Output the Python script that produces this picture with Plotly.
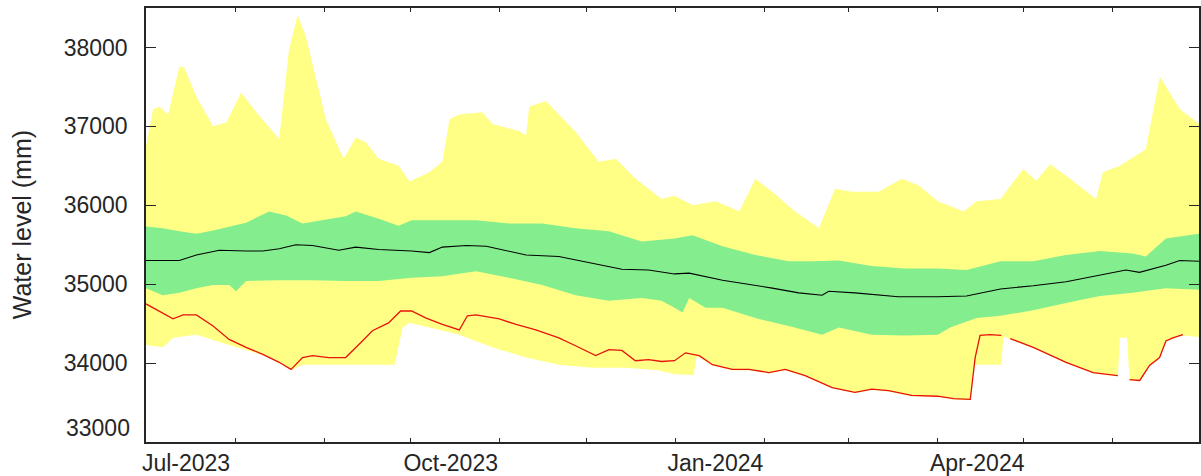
import numpy as np
import pandas as pd
import plotly.graph_objects as go

START = "2023-07-01"

# Yellow band: historical maximum (upper edge)
max_day = [0, 2.5, 4.7, 7.7, 11.6, 13.3, 17.5, 23.3, 27.9, 33.1, 38.3, 46.3, 49.7, 52.7, 55.6,
           62.5, 68.7, 72.9, 76.4, 80.9, 87.8, 91.6, 98.5, 103, 105.5, 108.9, 116.9, 120.4,
           129.7, 132.1, 133.2, 139, 143.5, 149.4, 157.4, 163.3, 170.2, 179.2, 183.7, 190,
           198, 206.2, 211.8, 217.7, 225.6, 233.9, 239.5, 245.4, 254.7, 262.7, 268.6, 275.2,
           284.2, 288.7, 297, 304.9, 309.4, 314.3, 321.2, 330.2, 332.6, 338.5, 347.5, 352.4,
           359.3, 366]
max_mm = [36750, 37220, 37250, 37150, 37760, 37745, 37380, 37000, 37050, 37430, 37180, 36840,
          37970, 38410, 38135, 37090, 36590, 36860, 36800, 36590, 36500, 36300, 36420, 36550,
          37090, 37150, 37180, 37030, 36940, 36880, 37250, 37320, 37150, 36930, 36550, 36590,
          36335, 36080, 36120, 36000, 36050, 35920, 36335, 36170, 35920, 35710, 36210, 36170,
          36170, 36335, 36250, 36050, 35920, 36050, 36080, 36460, 36310, 36520, 36335, 36080,
          36420, 36500, 36710, 37630, 37220, 37030]

# Yellow band: historical minimum (lower edge)
min_day = [0, 6, 9.4, 17.5, 28.9, 34.8, 40.6, 46.3, 50.4, 54.4, 69.4, 86.4, 89.2, 91.6, 98.5,
           108.9, 120.4, 132.1, 143.5, 155, 166.8, 178.2, 183.7, 190.3, 191.5, 196.9, 203.8,
           209.6, 216.5, 222.2, 229.1, 238.5, 246.4, 252.3, 258.1, 266.1, 275.2, 280.7, 286.5,
           288, 297.3, 298, 300.4, 308.4, 319.8, 329.2, 337.8, 338.5, 341, 341.9, 345.4, 348.8,
           352.3, 354.5, 356.9, 360.4, 366]
min_mm = [34230, 34200, 34320, 34360, 34230, 34160, 34100, 34000, 33910, 33980, 33980, 33980,
          34450, 34510, 34450, 34360, 34200, 34070, 33980, 33940, 33940, 33910, 33860, 33850,
          34090, 33970, 33910, 33910, 33870, 33910, 33830, 33680, 33620, 33660, 33640, 33580,
          33570, 33540, 33530, 33980, 33980, 34340, 34300, 34190, 34000, 33870, 33830, 34320,
          34320, 33780, 33770, 33960, 34060, 34270, 34310, 34350, 34330]

# Green band: upper and lower percentile
p_hi_day = [0, 5.8, 11.6, 17.5, 23.3, 30.2, 34.8, 42.8, 48.7, 54.4, 61.4, 69.4, 72.9, 80.9,
            87.8, 92.3, 103, 114.7, 126.2, 137.7, 149.3, 160.9, 172.3, 183.7, 190, 200.4,
            211.8, 223.4, 231.5, 240.8, 252.3, 263.7, 275.2, 285.2, 297, 308.4, 319.8, 331.6,
            343, 347.5, 354.5, 366]
p_hi_mm = [35730, 35710, 35670, 35640, 35680, 35740, 35780, 35920, 35870, 35770, 35810, 35860,
           35920, 35830, 35740, 35810, 35810, 35810, 35770, 35770, 35710, 35670, 35540, 35580,
           35620, 35480, 35370, 35290, 35290, 35300, 35230, 35200, 35200, 35180, 35290, 35290,
           35370, 35420, 35390, 35350, 35580, 35640]
p_lo_day = [0, 5.8, 11.6, 17.5, 23.3, 28.9, 31.3, 34.8, 46.3, 57.9, 69.4, 80.9, 92.3, 103,
            114.7, 126.2, 137.7, 149.3, 160.9, 172.3, 179.2, 183.7, 186.5, 188.8, 194.5, 200.4,
            211.8, 223.4, 235, 240.8, 252.3, 263.7, 275.2, 279.5, 288.7, 297, 308.4, 319.8,
            331.6, 343, 354.5, 366]
p_lo_mm = [34950, 34860, 34890, 34950, 34990, 34990, 34910, 35040, 35050, 35050, 35040, 35040,
           35080, 35100, 35165, 35080, 34990, 34860, 34790, 34825, 34790, 34700, 34640, 34825,
           34700, 34700, 34570, 34470, 34360, 34450, 34360, 34350, 34360, 34450, 34570, 34600,
           34670, 34760, 34850, 34890, 34950, 34930]

# Black: median
med_day = [0, 11.6, 17.5, 25.5, 34.8, 40.6, 46.3, 52.1, 57.9, 67, 72.9, 80.9, 92.3, 98.5, 103,
           111.3, 118.3, 132.1, 143.5, 155, 165.4, 174.7, 183.7, 188.8, 200.4, 217.7, 226.9,
           235, 237.3, 246.4, 261.5, 275.2, 285.2, 297, 308.4, 319.8, 331.6, 340.6, 345.3,
           354.5, 359.3, 366]
med_mm = [35300, 35300, 35370, 35430, 35420, 35420, 35450, 35500, 35490, 35430, 35470, 35440,
          35420, 35400, 35470, 35490, 35480, 35370, 35350, 35270, 35190, 35180, 35130, 35140,
          35050, 34950, 34890, 34860, 34910, 34890, 34840, 34840, 34850, 34940, 34980, 35030,
          35110, 35180, 35150, 35240, 35300, 35290]

# Red: current year observations (NaN = missing)
obs_day = [0, 4.7, 9.4, 12.9, 17.5, 23.3, 28.9, 34.8, 40.6, 46.3, 50.4, 54.4, 57.9, 63.5, 69.4,
           75.2, 78.7, 84.3, 88.5, 92.3, 97.4, 103, 108.9, 111.7, 114.7, 122.8, 128.6, 135.5,
           143.5, 149.3, 156.3, 160.9, 165.4, 170.1, 174.7, 179.2, 183.7, 187.5, 192.3, 196.9,
           203.8, 209.6, 216.5, 222.2, 229.1, 238.5, 246.4, 252.3, 258.1, 266.1, 275.2, 280.7,
           286.5, 288.2, 289.9, 293.4, 297.3, 298.8, 300.4, 308.4, 319.8, 329.2, 337.8, 339.8,
           341.9, 345.4, 348.8, 352.3, 354.5, 356.9, 360.4]
obs_mm = [34750, 34660, 34560, 34610, 34610, 34470, 34300, 34200, 34110, 34010, 33920, 34070,
          34095, 34070, 34070, 34280, 34410, 34510, 34660, 34660, 34570, 34490, 34420, 34600,
          34610, 34560, 34490, 34420, 34320, 34220, 34095, 34170, 34160, 34030, 34045, 34020,
          34030, 34130, 34095, 33980, 33920, 33920, 33880, 33920, 33840, 33690, 33630, 33670,
          33650, 33590, 33580, 33550, 33540, 34070, 34350, 34360, 34350, np.nan, 34310, 34200,
          34010, 33880, 33840, np.nan, 33790, 33780, 33970, 34070, 34280, 34320, 34360]

month_ticks = pd.date_range("2023-07-01", "2024-07-01", freq="MS")
tick_text = [d.strftime("%b-%Y") if d.month in (1, 4, 7, 10) and d.year * 100 + d.month < 202407 else ""
             for d in month_ticks]
y_ticks = [34000, 35000, 36000, 37000, 38000]


def to_dates(days):
    return pd.Timestamp(START) + pd.to_timedelta(np.asarray(days, dtype=float), unit="D")


YELLOW = "#FFFF85"
GREEN = "#84EE8E"
FONT = "Liberation Sans, Arial, sans-serif"
AX = "#262626"

fig = go.Figure()

xd_max, xd_min = to_dates(max_day), to_dates(min_day)
fig.add_trace(go.Scatter(
    x=list(xd_max) + list(xd_min[::-1]), y=max_mm + min_mm[::-1],
    fill="toself", fillcolor=YELLOW, line=dict(width=0), mode="lines",
    hoverinfo="skip", showlegend=False))

xd_hi, xd_lo = to_dates(p_hi_day), to_dates(p_lo_day)
fig.add_trace(go.Scatter(
    x=list(xd_hi) + list(xd_lo[::-1]), y=p_hi_mm + p_lo_mm[::-1],
    fill="toself", fillcolor=GREEN, line=dict(width=0), mode="lines",
    hoverinfo="skip", showlegend=False))

fig.add_trace(go.Scatter(x=to_dates(med_day), y=med_mm, mode="lines",
                         line=dict(color="black", width=1.1), showlegend=False))

fig.add_trace(go.Scatter(x=to_dates(obs_day), y=obs_mm, mode="lines", connectgaps=False,
                         line=dict(color="#E8120C", width=1.3), showlegend=False))

fig.update_layout(
    width=1201, height=476,
    margin=dict(l=146, r=0, t=8, b=31),
    paper_bgcolor="white", plot_bgcolor="white",
    font=dict(family=FONT, size=23, color=AX),
    showlegend=False,
)

fig.update_xaxes(
    range=["2023-07-01", "2024-07-01"],
    tickmode="array", tickvals=month_ticks, ticktext=tick_text,
    ticks="inside", ticklen=4, tickwidth=1.3, tickcolor=AX,
    ticklabelshift=40,
    showline=True, linecolor=AX, linewidth=1.5, mirror="ticks",
    showgrid=False, zeroline=False,
    tickfont=dict(size=23, family=FONT, color=AX),
)
fig.update_yaxes(
    range=[33000, 38500],
    tickmode="array", tickvals=y_ticks, ticktext=[str(v) for v in y_ticks],
    ticks="inside", ticklen=10, tickwidth=1.3, tickcolor=AX,
    ticklabelstandoff=12,
    showline=True, linecolor=AX, linewidth=1.5, mirror="ticks",
    showgrid=False, zeroline=False,
    tickfont=dict(size=23, family=FONT, color=AX),
)

fig.add_annotation(text="33000", xref="paper", yref="y", x=0, y=33000, xanchor="right",
                   yanchor="middle", xshift=-14, yshift=14, showarrow=False,
                   font=dict(size=23, family=FONT, color=AX))
fig.add_annotation(text="Water level (mm)", xref="paper", yref="paper", x=-0.1175, y=0.5,
                   xanchor="center", yanchor="middle", textangle=-90, showarrow=False,
                   font=dict(size=25, family=FONT, color=AX))

fig.write_html("out.html")
